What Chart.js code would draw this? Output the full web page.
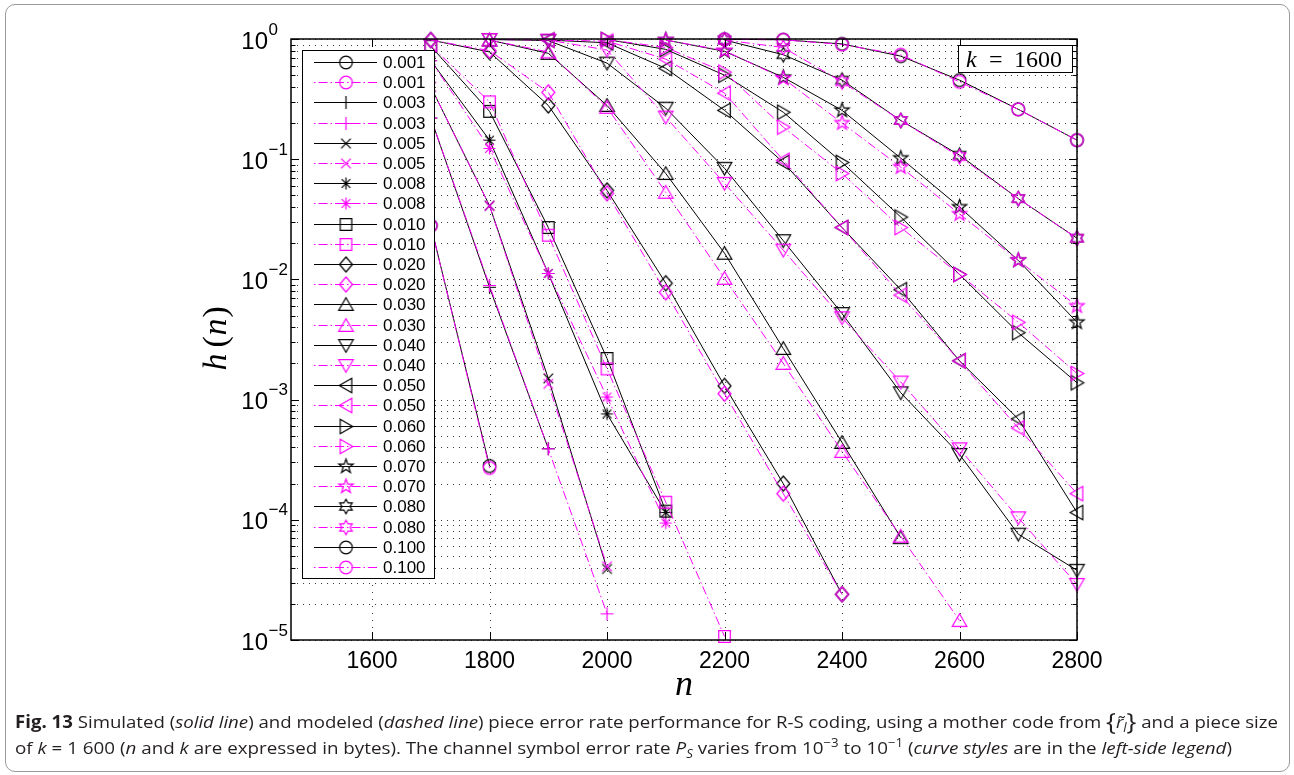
<!DOCTYPE html>
<html><head><meta charset="utf-8">
<script src="https://cdn.jsdelivr.net/npm/chart.js@4.4.1/dist/chart.umd.min.js"></script>
<style>
html,body{margin:0;padding:0;background:#fff;}
#wrap{position:relative;width:1294px;height:775px;overflow:hidden;background:#fff;}
#frame{position:absolute;left:5px;top:4px;width:1285px;height:768px;border:1px solid #9a9a9a;border-radius:10px;box-sizing:border-box;}
#c{position:absolute;left:0;top:0;}
.cap{position:absolute;left:15px;white-space:nowrap;font-family:'Open Sans',sans-serif;font-size:17px;line-height:20px;color:#231f20;transform-origin:0 50%;}
.cap sub,.cap sup{font-size:12px;line-height:0;position:relative;vertical-align:baseline;}
.cap sub{top:4px;} .cap sup{top:-7px;}
.cap .br{font-size:24px;position:relative;top:2px;line-height:0;}
</style></head><body>
<div id="wrap">
<div id="frame"></div>
<canvas id="c" width="1294" height="775"></canvas>
<div class="cap" id="cap1" style="top:712px"><b>Fig. 13</b> Simulated (<i>solid line</i>) and modeled (<i>dashed line</i>) piece error rate performance for R-S coding, using a mother code from <span class="br">{</span><i>r̃</i><sub><i>l</i></sub><span class="br">}</span> and a piece size</div>
<div class="cap" id="cap2" style="top:738px">of <i>k</i> = 1 600 (<i>n</i> and <i>k</i> are expressed in bytes). The channel symbol error rate <i>P</i><sub><i>S</i></sub> varies from 10<sup>−3</sup> to 10<sup>−1</sup> (<i>curve styles</i> are in the <i>left-side legend</i>)</div>
</div>
<script>
// ---------------- data ----------------
const nValues = [1700,1800,1900,2000,2100,2200,2300,2400,2500,2600,2700,2800];
const psLabels = ['0.001','0.003','0.005','0.008','0.010','0.020','0.030','0.040','0.050','0.060','0.070','0.080','0.100'];

// simulated (solid black)
const sim001 = [0.028,2.8e-4,null,null,null,null,null,null,null,null,null,null];
const sim003 = [0.22,0.0086,3.9e-4,null,null,null,null,null,null,null,null,null];
const sim005 = [0.40,0.041,1.5e-3,3.9e-5,null,null,null,null,null,null,null,null];
const sim008 = [0.66,0.144,0.0112,7.6e-4,1.15e-4,null,null,null,null,null,null,null];
const sim010 = [0.87,0.25,0.027,2.2e-3,1.18e-4,null,null,null,null,null,null,null];
const sim020 = [0.98,0.78,0.28,0.055,9.3e-3,1.3e-3,2.0e-4,2.4e-5,null,null,null,null];
const sim030 = [null,0.98,0.76,0.28,0.076,0.0165,2.66e-3,4.4e-4,7.1e-5,null,null,null];
const sim040 = [null,0.99,0.97,0.63,0.266,0.084,0.021,5.2e-3,1.14e-3,3.5e-4,7.6e-5,3.8e-5];
const sim050 = [null,null,0.98,0.93,0.57,0.255,0.094,0.027,8.2e-3,2.1e-3,6.9e-4,1.15e-4];
const sim060 = [null,null,null,0.99,0.82,0.5,0.246,0.094,0.033,0.011,3.6e-3,1.38e-3];
const sim070 = [null,null,null,null,0.98,0.79,0.48,0.255,0.102,0.04,0.0144,4.4e-3];
const sim080 = [null,null,null,null,null,0.98,0.74,0.455,0.21,0.108,0.047,0.022];
const sim100 = [null,null,null,null,null,0.995,0.985,0.91,0.72,0.455,0.26,0.144];

// modeled (dashed magenta)
const mod001 = [0.028,2.7e-4,null,null,null,null,null,null,null,null,null,null];
const mod003 = [0.22,0.0089,3.9e-4,1.65e-5,null,null,null,null,null,null,null,null];
const mod005 = [0.40,0.041,1.35e-3,4.1e-5,null,null,null,null,null,null,null,null];
const mod008 = [0.66,0.123,0.0112,1.05e-3,9.4e-5,null,null,null,null,null,null,null];
const mod010 = [0.88,0.30,0.0233,1.8e-3,1.4e-4,1.07e-5,null,null,null,null,null,null];
const mod020 = [0.98,0.80,0.36,0.052,7.8e-3,1.12e-3,1.65e-4,2.4e-5,null,null,null,null];
const mod030 = [null,0.98,0.78,0.27,0.053,0.0102,2.0e-3,3.7e-4,7.3e-5,1.45e-5,null,null];
const mod040 = [null,0.99,0.98,0.81,0.224,0.063,0.0175,4.8e-3,1.4e-3,3.9e-4,1.04e-4,2.9e-5];
const mod050 = [null,null,0.98,0.96,0.68,0.355,0.098,0.027,7.4e-3,2.1e-3,5.8e-4,1.65e-4];
const mod060 = [null,null,null,0.99,0.85,0.53,0.185,0.076,0.027,0.011,4.4e-3,1.65e-3];
const mod070 = [null,null,null,null,0.98,0.8,0.47,0.2,0.086,0.035,0.0144,6.0e-3];
const mod080 = [null,null,null,null,null,0.98,0.85,0.44,0.21,0.105,0.047,0.022];
const mod100 = [null,null,null,null,null,0.995,0.985,0.9,0.74,0.44,0.26,0.144];

const xTickValues = [1600,1800,2000,2200,2400,2600,2800];
const xTickLabels = ['1600','1800','2000','2200','2400','2600','2800'];
const yDecadeValues = [1,0.1,0.01,0.001,0.0001,0.00001];
const yDecadeExponents = ['0','\u22121','\u22122','\u22123','\u22124','\u22125'];

const simSeries = [sim001,sim003,sim005,sim008,sim010,sim020,sim030,sim040,sim050,sim060,sim070,sim080,sim100];
const modSeries = [mod001,mod003,mod005,mod008,mod010,mod020,mod030,mod040,mod050,mod060,mod070,mod080,mod100];
const markerShapes = ['circle','plus','x','asterisk','square','diamond','triUp','triDown','triLeft','triRight','pentagram','hexagram','circle'];

// ---------------- styling ----------------
const BLACK = '#000000', MAGENTA = '#ff00ff';
const MOD_DASH = [9,3,1.5,3];

function makeMarker(shape, color){
  const S = 21, c = 10.5;
  const cv = document.createElement('canvas'); cv.width = S; cv.height = S;
  const g = cv.getContext('2d');
  g.strokeStyle = color; g.lineWidth = 1.2; g.beginPath();
  const star = (n, ro, ri) => {
    for (let k = 0; k < 2*n; k++) {
      const r = k % 2 ? ri : ro;
      const a = -Math.PI/2 + k*Math.PI/n;
      const px = c + r*Math.cos(a), py = c + r*Math.sin(a);
      if (k === 0) g.moveTo(px, py); else g.lineTo(px, py);
    }
    g.closePath();
  };
  switch(shape){
    case 'circle': g.arc(c,c,6.3,0,2*Math.PI); break;
    case 'plus': g.moveTo(c-6.5,c); g.lineTo(c+6.5,c); g.moveTo(c,c-6.5); g.lineTo(c,c+6.5); break;
    case 'x': g.moveTo(c-4.8,c-4.8); g.lineTo(c+4.8,c+4.8); g.moveTo(c-4.8,c+4.8); g.lineTo(c+4.8,c-4.8); break;
    case 'asterisk':
      g.moveTo(c-6,c); g.lineTo(c+6,c); g.moveTo(c,c-6); g.lineTo(c,c+6);
      g.moveTo(c-4.3,c-4.3); g.lineTo(c+4.3,c+4.3); g.moveTo(c-4.3,c+4.3); g.lineTo(c+4.3,c-4.3); break;
    case 'square': g.rect(c-5.8,c-5.8,11.6,11.6); break;
    case 'diamond': g.moveTo(c,c-7.5); g.lineTo(c+6.5,c); g.lineTo(c,c+7.5); g.lineTo(c-6.5,c); g.closePath(); break;
    case 'triUp': g.moveTo(c,c-6.8); g.lineTo(c+7.3,c+5.8); g.lineTo(c-7.3,c+5.8); g.closePath(); break;
    case 'triDown': g.moveTo(c,c+6.8); g.lineTo(c+7.3,c-5.8); g.lineTo(c-7.3,c-5.8); g.closePath(); break;
    case 'triLeft': g.moveTo(c-6.8,c); g.lineTo(c+5.8,c-7.3); g.lineTo(c+5.8,c+7.3); g.closePath(); break;
    case 'triRight': g.moveTo(c+6.8,c); g.lineTo(c-5.8,c-7.3); g.lineTo(c-5.8,c+7.3); g.closePath(); break;
    case 'pentagram': star(5,7.5,3.0); break;
    case 'hexagram': star(6,7.2,4.1); break;
  }
  g.stroke();
  return cv;
}

function toPoints(arr){
  const pts = [];
  arr.forEach((v,i) => { if (v !== null) pts.push({x: nValues[i], y: v}); });
  return pts;
}

const datasets = [];
psLabels.forEach((lab, i) => {
  datasets.push({
    label: lab, data: toPoints(simSeries[i]),
    borderColor: BLACK, borderWidth: 1, borderDash: [],
    pointStyle: makeMarker(markerShapes[i], BLACK), pointRadius: 6, pointHoverRadius: 6,
    fill: false, tension: 0, clip: false
  });
  datasets.push({
    label: lab, data: toPoints(modSeries[i]),
    borderColor: MAGENTA, borderWidth: 1, borderDash: MOD_DASH,
    pointStyle: makeMarker(markerShapes[i], MAGENTA), pointRadius: 6, pointHoverRadius: 6,
    fill: false, tension: 0, clip: false
  });
});
// later series drawn on top (as in the original plot)
datasets.forEach((ds, i) => { ds.order = datasets.length - i; });

// minor + major log grid values
const yGridValues = [];
for (let e = -5; e <= 0; e++) {
  for (let m = 1; m <= 9; m++) {
    const v = m * Math.pow(10, e);
    if (v <= 1.0000001) yGridValues.push(v);
  }
}

const decorPlugin = {
  id: 'decor',
  beforeDatasetsDraw(chart){
    const {ctx, chartArea: a, scales: {x, y}} = chart;
    ctx.save();
    ctx.lineWidth = 1; ctx.strokeStyle = '#3a3a3a';
    ctx.setLineDash([1,5]);
    yGridValues.forEach(v => {
      const py = Math.round(y.getPixelForValue(v)) + 0.5;
      ctx.beginPath(); ctx.moveTo(a.left, py); ctx.lineTo(a.right, py); ctx.stroke();
    });
    ctx.setLineDash([1,6]);
    xTickValues.forEach(v => {
      const px = Math.round(x.getPixelForValue(v)) + 0.5;
      ctx.beginPath(); ctx.moveTo(px, a.top); ctx.lineTo(px, a.bottom); ctx.stroke();
    });
    ctx.restore();
  },
  afterDatasetsDraw(chart){
    const {ctx, chartArea: a, scales: {x, y}} = chart;
    ctx.save();
    ctx.setLineDash([]);
    ctx.strokeStyle = '#000'; ctx.lineWidth = 1;
    // ticks (inside)
    ctx.beginPath();
    xTickValues.forEach(v => {
      const px = Math.round(x.getPixelForValue(v)) + 0.5;
      ctx.moveTo(px, a.bottom); ctx.lineTo(px, a.bottom - 8);
      ctx.moveTo(px, a.top); ctx.lineTo(px, a.top + 8);
    });
    yGridValues.forEach(v => {
      const py = Math.round(y.getPixelForValue(v)) + 0.5;
      const major = Math.abs(Math.log10(v) - Math.round(Math.log10(v))) < 1e-9;
      const L = major ? 8 : 4.5;
      ctx.moveTo(a.left, py); ctx.lineTo(a.left + L, py);
      ctx.moveTo(a.right, py); ctx.lineTo(a.right - L, py);
    });
    ctx.stroke();
    // frame
    ctx.lineWidth = 1.5;
    ctx.strokeRect(a.left, a.top, a.right - a.left, a.bottom - a.top);

    // x tick labels
    ctx.fillStyle = '#000';
    ctx.font = '23px "Liberation Sans", Arial, sans-serif';
    ctx.textAlign = 'center'; ctx.textBaseline = 'middle';
    xTickValues.forEach((v, i) => {
      ctx.fillText(xTickLabels[i], x.getPixelForValue(v), a.bottom + 22);
    });
    // y tick labels with superscripts
    yDecadeValues.forEach((v, i) => {
      const py = y.getPixelForValue(v);
      ctx.font = '24px "Liberation Sans", Arial, sans-serif';
      ctx.textAlign = 'right'; ctx.textBaseline = 'middle';
      ctx.fillText('10', 268, py + 3);
      ctx.font = '17px "Liberation Sans", Arial, sans-serif';
      ctx.textAlign = 'left';
      ctx.fillText(yDecadeExponents[i], 268.5, py - 9);
    });
    // axis titles
    ctx.font = 'italic 36px "Liberation Serif", "DejaVu Serif", serif';
    ctx.textAlign = 'center'; ctx.textBaseline = 'middle';
    ctx.fillText('n', (a.left + a.right) / 2, a.bottom + 46);
    ctx.save();
    ctx.translate(217, (a.top + a.bottom) / 2 + 2);
    ctx.rotate(-Math.PI / 2);
    ctx.font = 'italic 34px "Liberation Serif", "DejaVu Serif", serif';
    ctx.textAlign = 'right';
    ctx.fillText('h', -12, 0);
    ctx.font = '34px "Liberation Serif", "DejaVu Serif", serif';
    ctx.textAlign = 'left';
    ctx.fillText('(', -6, 0);
    ctx.font = 'italic 34px "Liberation Serif", "DejaVu Serif", serif';
    ctx.fillText('n', 6, 0);
    ctx.font = '34px "Liberation Serif", "DejaVu Serif", serif';
    ctx.fillText(')', 24, 0);
    ctx.restore();

    // k = 1600 box
    ctx.fillStyle = '#fff';
    ctx.fillRect(958, 45, 114, 27);
    ctx.lineWidth = 1; ctx.strokeStyle = '#000';
    ctx.strokeRect(958.5, 45.5, 114, 27);
    ctx.fillStyle = '#000'; ctx.textBaseline = 'alphabetic'; ctx.textAlign = 'left';
    ctx.font = 'italic 24px "Liberation Serif", "DejaVu Serif", serif';
    ctx.fillText('k', 966, 67);
    ctx.font = '24px "Liberation Serif", "DejaVu Serif", serif';
    ctx.fillText('=', 989, 67);
    ctx.fillText('1600', 1014, 67);

    // legend
    const lx = 302, ly = 50, lw = 132, lh = 528;
    ctx.fillStyle = '#fff';
    ctx.fillRect(lx, ly, lw, lh);
    ctx.lineWidth = 1; ctx.strokeStyle = '#000';
    ctx.strokeRect(lx + 0.5, ly + 0.5, lw, lh);
    const meta = chart.data.datasets;
    meta.forEach((ds, i) => {
      const cy = Math.round(62 + i * 20.2) + 0.5;
      ctx.save();
      ctx.strokeStyle = ds.borderColor; ctx.lineWidth = 1;
      ctx.setLineDash(ds.borderDash || []);
      ctx.lineDashOffset = ds.borderDash && ds.borderDash.length ? 12 : 0;
      ctx.beginPath(); ctx.moveTo(314, cy); ctx.lineTo(377, cy); ctx.stroke();
      ctx.restore();
      ctx.drawImage(ds.pointStyle, 346 - 10.5, cy - 10.5);
      ctx.fillStyle = '#000';
      ctx.font = '17px "Liberation Sans", Arial, sans-serif';
      ctx.textAlign = 'left'; ctx.textBaseline = 'middle';
      ctx.fillText(ds.label, 383, cy + 1);
    });
    ctx.restore();
  }
};

new Chart(document.getElementById('c'), {
  type: 'line',
  data: { datasets },
  options: {
    responsive: false, animation: false, devicePixelRatio: 1, events: [],
    layout: { padding: { left: 291, right: 217, top: 39, bottom: 135 } },
    plugins: { legend: { display: false }, tooltip: { enabled: false } },
    scales: {
      x: { type: 'linear', min: 1462, max: 2800,
           ticks: { display: false }, grid: { display: false, drawTicks: false }, border: { display: false } },
      y: { type: 'logarithmic', min: 1e-5, max: 1,
           ticks: { display: false }, grid: { display: false, drawTicks: false }, border: { display: false } }
    }
  },
  plugins: [decorPlugin]
});

// fit caption lines to the reference widths
function fitCaption(){
  [['cap1', 1263], ['cap2', 1217]].forEach(([id, w]) => {
    const el = document.getElementById(id);
    el.style.transform = 'none';
    const cw = el.getBoundingClientRect().width;
    el.style.transform = 'scaleX(' + (w / cw) + ')';
  });
}
fitCaption();
if (document.fonts && document.fonts.ready) document.fonts.ready.then(fitCaption);
</script>
</body></html>
